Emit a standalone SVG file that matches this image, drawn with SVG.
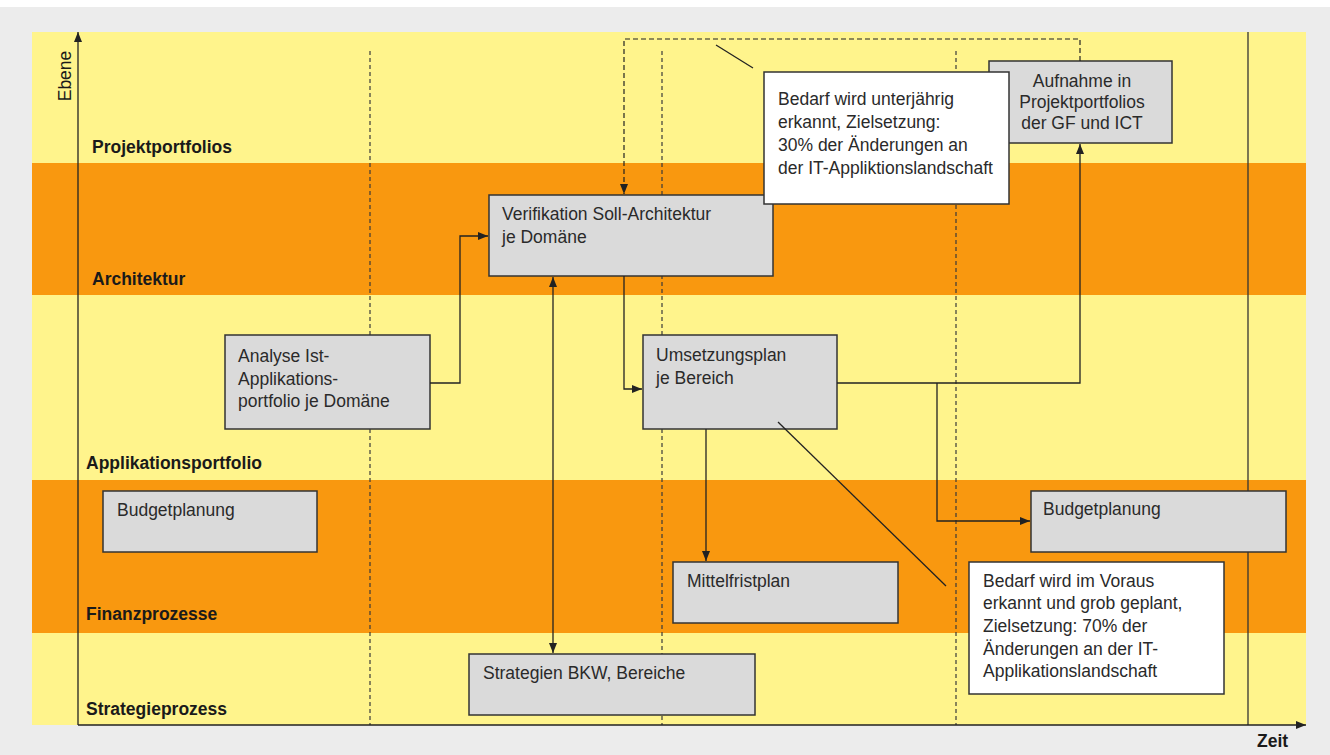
<svg xmlns="http://www.w3.org/2000/svg" width="1330" height="755" viewBox="0 0 1330 755">
<defs>
<style>
.t{font-family:"Liberation Sans",Arial,sans-serif;font-size:17.5px;fill:#2a2a2a}
.b{font-family:"Liberation Sans",Arial,sans-serif;font-size:17.5px;font-weight:bold;fill:#1a1a1a}
.node{fill:#dadada;stroke:#333;stroke-width:1.5}
.note{fill:#ffffff;stroke:#333;stroke-width:1.5}
.guide{stroke:#3a3a3a;stroke-width:1.2;stroke-dasharray:4 3;fill:none}
.con{stroke:#222;stroke-width:1.3;fill:none}
.dash{stroke:#222;stroke-width:1.2;stroke-dasharray:5 3;fill:none}
</style>
<marker id="ah" viewBox="0 0 10 8" refX="10" refY="4" markerWidth="10" markerHeight="8" markerUnits="userSpaceOnUse" orient="auto-start-reverse">
<path d="M0,0 L10,4 L0,8 Z" fill="#222"/>
</marker>
</defs>
<rect x="0" y="0" width="1330" height="755" fill="#ececec"/>
<rect x="0" y="0" width="1330" height="7" fill="#ffffff"/>
<g id="bands">
<rect x="32" y="32" width="1274" height="131" fill="#fff48c"/>
<rect x="32" y="163" width="1274" height="132" fill="#f9980f"/>
<rect x="32" y="295" width="1274" height="185" fill="#fff48c"/>
<rect x="32" y="480" width="1274" height="153" fill="#f9980f"/>
<rect x="32" y="633" width="1274" height="92" fill="#fff48c"/>
</g>
<g id="band-labels">
<text class="b" x="92" y="153">Projektportfolios</text>
<text class="b" x="92" y="285">Architektur</text>
<text class="b" x="86" y="469">Applikationsportfolio</text>
<text class="b" x="86" y="620">Finanzprozesse</text>
<text class="b" x="86" y="715">Strategieprozess</text>
<text class="t" transform="translate(71,76) rotate(-90)" text-anchor="middle" style="fill:#1a1a1a">Ebene</text>
<text class="b" x="1257" y="747">Zeit</text>
</g>
<g id="guides">
<line class="guide" x1="370" y1="51" x2="370" y2="725"/>
<line class="guide" x1="662" y1="51" x2="662" y2="725"/>
<line class="guide" x1="956" y1="51" x2="956" y2="725"/>
<line x1="1248" y1="32" x2="1248" y2="725" stroke="#333" stroke-width="1.3"/>
</g>
<g id="node-verifikation">
<rect class="node" x="489" y="195" width="284" height="81"/>
<text class="t" x="502" y="220">Verifikation Soll-Architektur</text>
<text class="t" x="502" y="243">je Domäne</text>
</g>
<g id="node-analyse">
<rect class="node" x="225" y="335" width="205" height="94"/>
<text class="t" x="238" y="362">Analyse Ist-</text>
<text class="t" x="238" y="385">Applikations-</text>
<text class="t" x="238" y="407">portfolio je Domäne</text>
</g>
<g id="node-umsetzung">
<rect class="node" x="643" y="335" width="194" height="94"/>
<text class="t" x="656" y="361">Umsetzungsplan</text>
<text class="t" x="656" y="384">je Bereich</text>
</g>
<g id="node-aufnahme">
<rect class="node" x="989" y="61" width="183" height="82"/>
<text class="t" x="1082" y="87" text-anchor="middle">Aufnahme in</text>
<text class="t" x="1082" y="108" text-anchor="middle">Projektportfolios</text>
<text class="t" x="1082" y="129" text-anchor="middle">der GF und ICT</text>
</g>
<g id="note-unterjaehrig">
<rect class="note" x="764" y="72" width="245" height="132"/>
<text class="t" x="778" y="105">Bedarf wird unterjährig</text>
<text class="t" x="778" y="128">erkannt, Zielsetzung:</text>
<text class="t" x="778" y="151">30% der Änderungen an</text>
<text class="t" x="778" y="174">der IT-Appliktionslandschaft</text>
</g>
<g id="node-budget-left">
<rect class="node" x="103" y="491" width="214" height="61"/>
<text class="t" x="117" y="516">Budgetplanung</text>
</g>
<g id="node-budget-right">
<rect class="node" x="1031" y="491" width="255" height="61"/>
<text class="t" x="1043" y="515">Budgetplanung</text>
</g>
<g id="node-mittelfrist">
<rect class="node" x="673" y="562" width="225" height="61"/>
<text class="t" x="687" y="587">Mittelfristplan</text>
</g>
<g id="note-voraus">
<rect class="note" x="969" y="562" width="255" height="132"/>
<text class="t" x="983" y="587">Bedarf wird im Voraus</text>
<text class="t" x="983" y="609">erkannt und grob geplant,</text>
<text class="t" x="983" y="632">Zielsetzung: 70% der</text>
<text class="t" x="983" y="655">Änderungen an der IT-</text>
<text class="t" x="983" y="677">Applikationslandschaft</text>
</g>
<g id="node-strategien">
<rect class="node" x="469" y="654" width="286" height="61"/>
<text class="t" x="483" y="679">Strategien BKW, Bereiche</text>
</g>
<g id="connectors">
<line class="con" x1="78" y1="725" x2="78" y2="32" marker-end="url(#ah)"/>
<line class="con" x1="78" y1="725" x2="1306" y2="725" marker-end="url(#ah)"/>
<path class="con" d="M430,383 H460 V236 H488" marker-end="url(#ah)"/>
<line class="con" x1="553" y1="277" x2="553" y2="653" marker-start="url(#ah)" marker-end="url(#ah)"/>
<path class="con" d="M624,276 V389 H642" marker-end="url(#ah)"/>
<path class="con" d="M837,383 H1080 V144" marker-end="url(#ah)"/>
<path class="con" d="M937,383 V521 H1030" marker-end="url(#ah)"/>
<line class="con" x1="706" y1="429" x2="706" y2="561" marker-end="url(#ah)"/>
<path class="dash" d="M1080,61 V39 H624 V194" marker-end="url(#ah)"/>
<line class="con" x1="716" y1="45" x2="753" y2="68"/>
<line class="con" x1="778" y1="422" x2="946" y2="586"/>
</g>
</svg>
